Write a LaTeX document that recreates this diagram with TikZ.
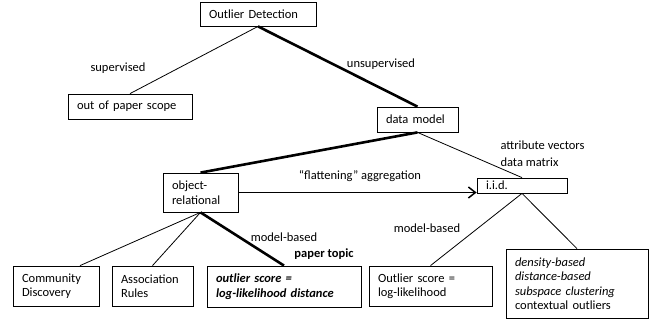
\documentclass[tikz,border=0pt]{standalone}
\usepackage{fontspec}
\setmainfont{Carlito}
\usetikzlibrary{arrows.meta,positioning,calc}

\begin{document}
\begin{tikzpicture}[x=1pt, y=-1pt,
    every node/.style={font=\fontsize{12.5}{14.5}\selectfont},
    box/.style={draw, line width=0.8pt, inner xsep=9pt, inner ysep=0pt, align=left},
    branch/.style={line width=0.8pt},
    mainbranch/.style={line width=2.6pt},
    flatten/.style={-{Straight Barb[length=7pt,width=11pt,line width=1.5pt]},
        line width=1.6pt}
]
    \useasboundingbox (0,0) rectangle (651,322);

    % boxes
    \node[box, text width=98pt, minimum height=24pt] (od) at (258,14) {Outlier Detection};
    \node[box, text width=106pt, minimum height=25pt] (scope) at (130,106.5) {out of paper scope};
    \node[box, text width=63pt, minimum height=25pt] (dm) at (417.5,119.5) {data model};
    \node[box, text width=57pt, minimum height=39pt] (objrel) at (200.5,192.5) {object-\\relational};
    \node[box, text width=72pt, minimum height=15pt] (iid) at (522,185.5) {i.i.d.};
    \node[box, text width=68pt, minimum height=40pt] (cd) at (56,286) {Community\\Discovery};
    \node[box, text width=63pt, minimum height=40pt] (ar) at (152.5,286) {Association\\Rules};
    \node[box, text width=136pt, minimum height=41pt, font=\fontsize{12.5}{14.5}\selectfont\bfseries\itshape]
        (topic) at (284,286.5) {outlier score =\\log-likelihood distance};
    \node[box, text width=105pt, minimum height=40pt] (ll) at (430.5,286) {Outlier score =\\log-likelihood};
    \node[box, text width=124pt, minimum height=69pt] (methods) at (577,283.5)
        {\textit{density-based}\\\textit{distance-based}\\\textit{subspace clustering}\\contextual outliers};

    % labels
    \node (sup) at (118,68) {supervised};
    \node (unsup) at (381,64) {unsupervised};
    \node[align=left, anchor=west, font=\fontsize{12.5}{17}\selectfont] (attr) at (497,153.5)
        {attribute vectors\\data matrix};
    \node (flat) at (360,176) {“flattening” aggregation};
    \node (mb1) at (284,237) {model-based};
    \node[font=\fontsize{12.5}{14.5}\selectfont\bfseries] (ptopic) at (324,254) {paper topic};
    \node (mb2) at (427,228) {model-based};

    % connectors
    \draw[branch] (od.south) -- (scope.north);
    \draw[mainbranch] (od.south) -- (dm.north);
    \draw[mainbranch] (dm.south) -- (objrel.north);
    \draw[branch] (dm.south) -- (iid.north);
    \draw[flatten] (objrel.east) -- (objrel.east -| iid.west);
    \draw[branch] (objrel.south) -- ($(cd.north)+(24,0)$);
    \draw[branch] (objrel.south) -- (ar.north);
    \draw[mainbranch] (objrel.south) -- (topic.north);
    \draw[branch] (iid.south) -- (ll.north);
    \draw[branch] (iid.south) -- (methods.north);
\end{tikzpicture}
\end{document}
